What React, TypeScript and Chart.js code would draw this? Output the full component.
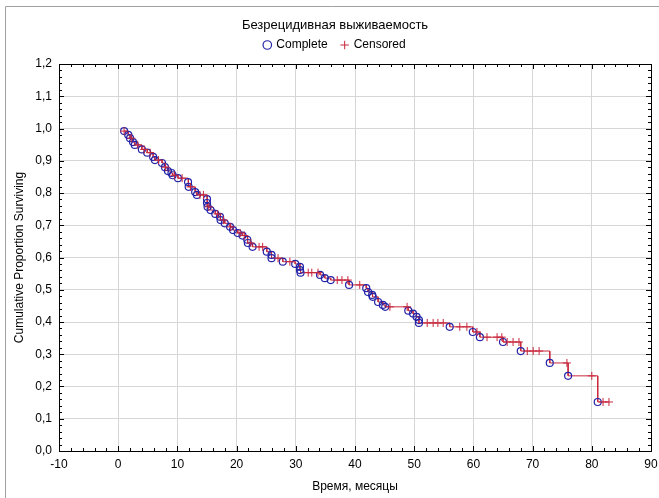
import React, { useEffect, useRef } from 'react';
import { Chart, registerables } from 'chart.js';

Chart.register(...registerables);

const FONT = '"Liberation Sans", Arial, sans-serif';

const titleText = 'Безрецидивная выживаемость';
const xAxisTitle = 'Время, месяцы';
const yAxisTitle = 'Cumulative Proportion Surviving';
const seriesNames = ['Complete', 'Censored'];

const xMin = -10;
const xMax = 90;
const xStep = 10;
const yMin = 0;
const yMax = 1.2;
const yStep = 0.1;

// Complete (event) cases: time and Kaplan–Meier survival after the event
const completeTimes = [
  1.0, 1.7, 2.0, 2.5, 2.8, 4.0, 4.9, 5.9, 6.2, 7.4,
  7.9, 8.4, 9.0, 9.2, 10.1, 11.8, 11.9, 13.0, 13.3, 15.0,
  15.0, 15.1, 15.6, 16.4, 17.2, 17.3, 18.0, 18.9, 19.4, 20.2,
  21.0, 21.8, 21.9, 22.7, 25.1, 25.9, 25.9, 27.8, 29.9, 30.7,
  30.7, 30.8, 34.1, 34.9, 35.9, 39.0, 41.9, 42.2, 42.9, 43.0,
  43.9, 44.7, 45.1, 49.0, 49.8, 50.4, 50.8, 50.8, 56.0, 59.9,
  61.1, 65.0, 68.0, 72.9, 76.0, 81.0,
];
const completeSurv = [
  0.992, 0.980, 0.970, 0.958, 0.949, 0.935, 0.925, 0.912, 0.902, 0.893,
  0.880, 0.868, 0.862, 0.855, 0.846, 0.834, 0.819, 0.803, 0.794, 0.781,
  0.769, 0.757, 0.747, 0.735, 0.726, 0.716, 0.706, 0.695, 0.685, 0.676,
  0.668, 0.655, 0.645, 0.633, 0.618, 0.608, 0.598, 0.587, 0.580, 0.571,
  0.561, 0.553, 0.546, 0.536, 0.530, 0.515, 0.505, 0.493, 0.484, 0.478,
  0.462, 0.453, 0.447, 0.435, 0.426, 0.416, 0.406, 0.397, 0.385, 0.369,
  0.353, 0.338, 0.310, 0.273, 0.233, 0.152,
];

// Censored cases: time and survival level at censoring
const censoredTimes = [
  1.0, 2.2, 3.3, 4.4, 5.4, 6.8, 8.0, 9.5, 10.8, 12.2,
  13.8, 14.4, 15.3, 16.8, 17.8, 19.0, 20.6, 21.3, 22.4, 23.8,
  24.4, 27.0, 29.0, 32.1, 32.7, 33.75, 37.0, 37.8, 38.8, 40.8,
  45.9, 48.8, 52.2, 53.2, 54.0, 54.9, 57.7, 58.9, 60.6, 62.3,
  64.0, 64.8, 65.7, 66.7, 67.7, 69.1, 70.1, 71.1, 75.8, 80.0,
  81.9, 82.9,
];
const censoredSurv = [
  0.992, 0.970, 0.949, 0.935, 0.925, 0.902, 0.880, 0.855, 0.846, 0.819,
  0.794, 0.794, 0.757, 0.735, 0.716, 0.695, 0.676, 0.668, 0.645, 0.633,
  0.633, 0.598, 0.587, 0.553, 0.553, 0.553, 0.530, 0.530, 0.530, 0.515,
  0.447, 0.447, 0.397, 0.397, 0.397, 0.397, 0.385, 0.385, 0.369, 0.353,
  0.353, 0.353, 0.338, 0.338, 0.338, 0.310, 0.310, 0.310, 0.273, 0.233,
  0.152, 0.152,
];

const BLUE = '#2424a8';
const RED = '#c8283c';

export default function App() {
  const ref = useRef<HTMLCanvasElement>(null);

  useEffect(() => {
    document.body.style.margin = '0';
    const canvas = ref.current;
    if (!canvas) return;

    // Kaplan–Meier step line built from the event arrays
    const steps: { x: number; y: number }[] = [];
    completeTimes.forEach((t, i) => {
      if (i === 0) {
        steps.push({ x: t, y: completeSurv[i] });
      } else {
        steps.push({ x: t, y: completeSurv[i - 1] });
        steps.push({ x: t, y: completeSurv[i] });
      }
    });
    const lastCens = censoredTimes[censoredTimes.length - 1];
    steps.push({ x: lastCens, y: completeSurv[completeSurv.length - 1] });

    const framePlugin = {
      id: 'framePlugin',
      afterLayout(chart: any) {
        const lg = chart.legend;
        if (lg) {
          lg.top -= 3;
          lg.bottom -= 3;
        }
      },
      beforeDraw(chart: any) {
        const ctx = chart.ctx;
        ctx.save();
        ctx.fillStyle = '#ffffff';
        ctx.fillRect(0, 0, chart.width, chart.height);
        ctx.strokeStyle = '#a0a0a0';
        ctx.lineWidth = 1;
        ctx.beginPath();
        ctx.moveTo(5.5, chart.height);
        ctx.lineTo(5.5, 6.5);
        ctx.lineTo(chart.width, 6.5);
        ctx.stroke();
        ctx.restore();
      },
      afterDatasetsDraw(chart: any) {
        const ctx = chart.ctx;
        const { left, right, top, bottom } = chart.chartArea;
        const xs = chart.scales.x;
        const ys = chart.scales.y;
        ctx.save();
        ctx.strokeStyle = '#000000';
        ctx.lineWidth = 1;
        ctx.strokeRect(Math.round(left) + 0.5, Math.round(top) + 0.5, Math.round(right - left), Math.round(bottom - top));
        ctx.beginPath();
        for (let v = xMin; v <= xMax + 1e-9; v += 2) {
          const px = Math.round(xs.getPixelForValue(v)) + 0.5;
          const len = Math.abs(v % 10) < 1e-9 ? 5 : 3;
          ctx.moveTo(px, bottom);
          ctx.lineTo(px, bottom - len);
          ctx.moveTo(px, top);
          ctx.lineTo(px, top + len);
        }
        for (let k = 0; k <= 60; k++) {
          const v = k * 0.02;
          const py = Math.round(ys.getPixelForValue(v)) + 0.5;
          const len = k % 5 === 0 ? 5 : 3;
          ctx.moveTo(left, py);
          ctx.lineTo(left + len, py);
          ctx.moveTo(right, py);
          ctx.lineTo(right - len, py);
        }
        ctx.stroke();
        ctx.restore();
      },
    };

    const chart = new Chart(canvas, {
      type: 'scatter',
      data: {
        datasets: [
          {
            label: seriesNames[0],
            data: completeTimes.map((t, i) => ({ x: t, y: completeSurv[i] })),
            pointStyle: 'circle',
            pointRadius: 3.5,
            borderColor: BLUE,
            backgroundColor: 'rgba(0,0,0,0)',
            borderWidth: 1.2,
            showLine: false,
            order: 1,
          },
          {
            label: seriesNames[1],
            data: censoredTimes.map((t, i) => ({ x: t, y: censoredSurv[i] })),
            pointStyle: 'cross',
            pointRadius: 4,
            borderColor: RED,
            backgroundColor: RED,
            borderWidth: 1,
            showLine: false,
            order: 0,
          },
          {
            label: 'KM',
            data: steps,
            showLine: true,
            pointRadius: 0,
            borderColor: RED,
            backgroundColor: RED,
            borderWidth: 1,
            order: 2,
          },
        ],
      },
      options: {
        responsive: false,
        animation: false,
        layout: { padding: { left: 19, right: 8, top: 0, bottom: 0 } },
        plugins: {
          tooltip: { enabled: false },
          title: {
            display: true,
            text: titleText,
            color: '#000',
            font: { family: FONT, size: 13, weight: 'normal' },
            padding: { top: 14, bottom: -5.6 },
          },
          legend: {
            display: true,
            position: 'top',
            labels: {
              sort: (a: any, b: any) => a.datasetIndex - b.datasetIndex,
              filter: (item: any) => item.datasetIndex < 2,
              usePointStyle: true,
              boxWidth: 6,
              boxHeight: 6,
              padding: 14,
              color: '#000',
              font: { family: FONT, size: 12 },
            },
          },
        },
        scales: {
          x: {
            type: 'linear',
            min: xMin,
            max: xMax,
            ticks: {
              stepSize: xStep,
              color: '#000',
              font: { family: FONT, size: 12 },
              padding: 6,
              maxRotation: 0,
              callback: (v: any) => String(v),
            },
            grid: { color: '#d6d6d6', drawTicks: false },
            border: { display: false },
            title: {
              display: true,
              text: xAxisTitle,
              color: '#000',
              font: { family: FONT, size: 12 },
              padding: { top: 0, bottom: 4 },
            },
            afterFit: (scale: any) => {
              scale.height = 47;
              scale.paddingRight = 0;
              scale.paddingLeft = 0;
            },
          },
          y: {
            type: 'linear',
            min: yMin,
            max: yMax,
            ticks: {
              stepSize: yStep,
              color: '#000',
              font: { family: FONT, size: 12 },
              padding: 7,
              callback: (v: any) => Number(v).toFixed(1).replace('.', ','),
            },
            grid: { color: '#d6d6d6', drawTicks: false },
            border: { display: false },
            title: {
              display: true,
              text: yAxisTitle,
              color: '#000',
              font: { family: FONT, size: 12 },
              padding: { top: -6.2, bottom: 0 },
            },
            afterFit: (scale: any) => {
              scale.width = 40;
              scale.paddingTop = 64;
            },
          },
        },
      },
      plugins: [framePlugin],
    } as any);

    return () => chart.destroy();
  }, []);

  return (
    <div style={{ width: 659, height: 498 }}>
      <canvas ref={ref} width={659} height={498} style={{ display: 'block', width: 659, height: 498 }} />
    </div>
  );
}
